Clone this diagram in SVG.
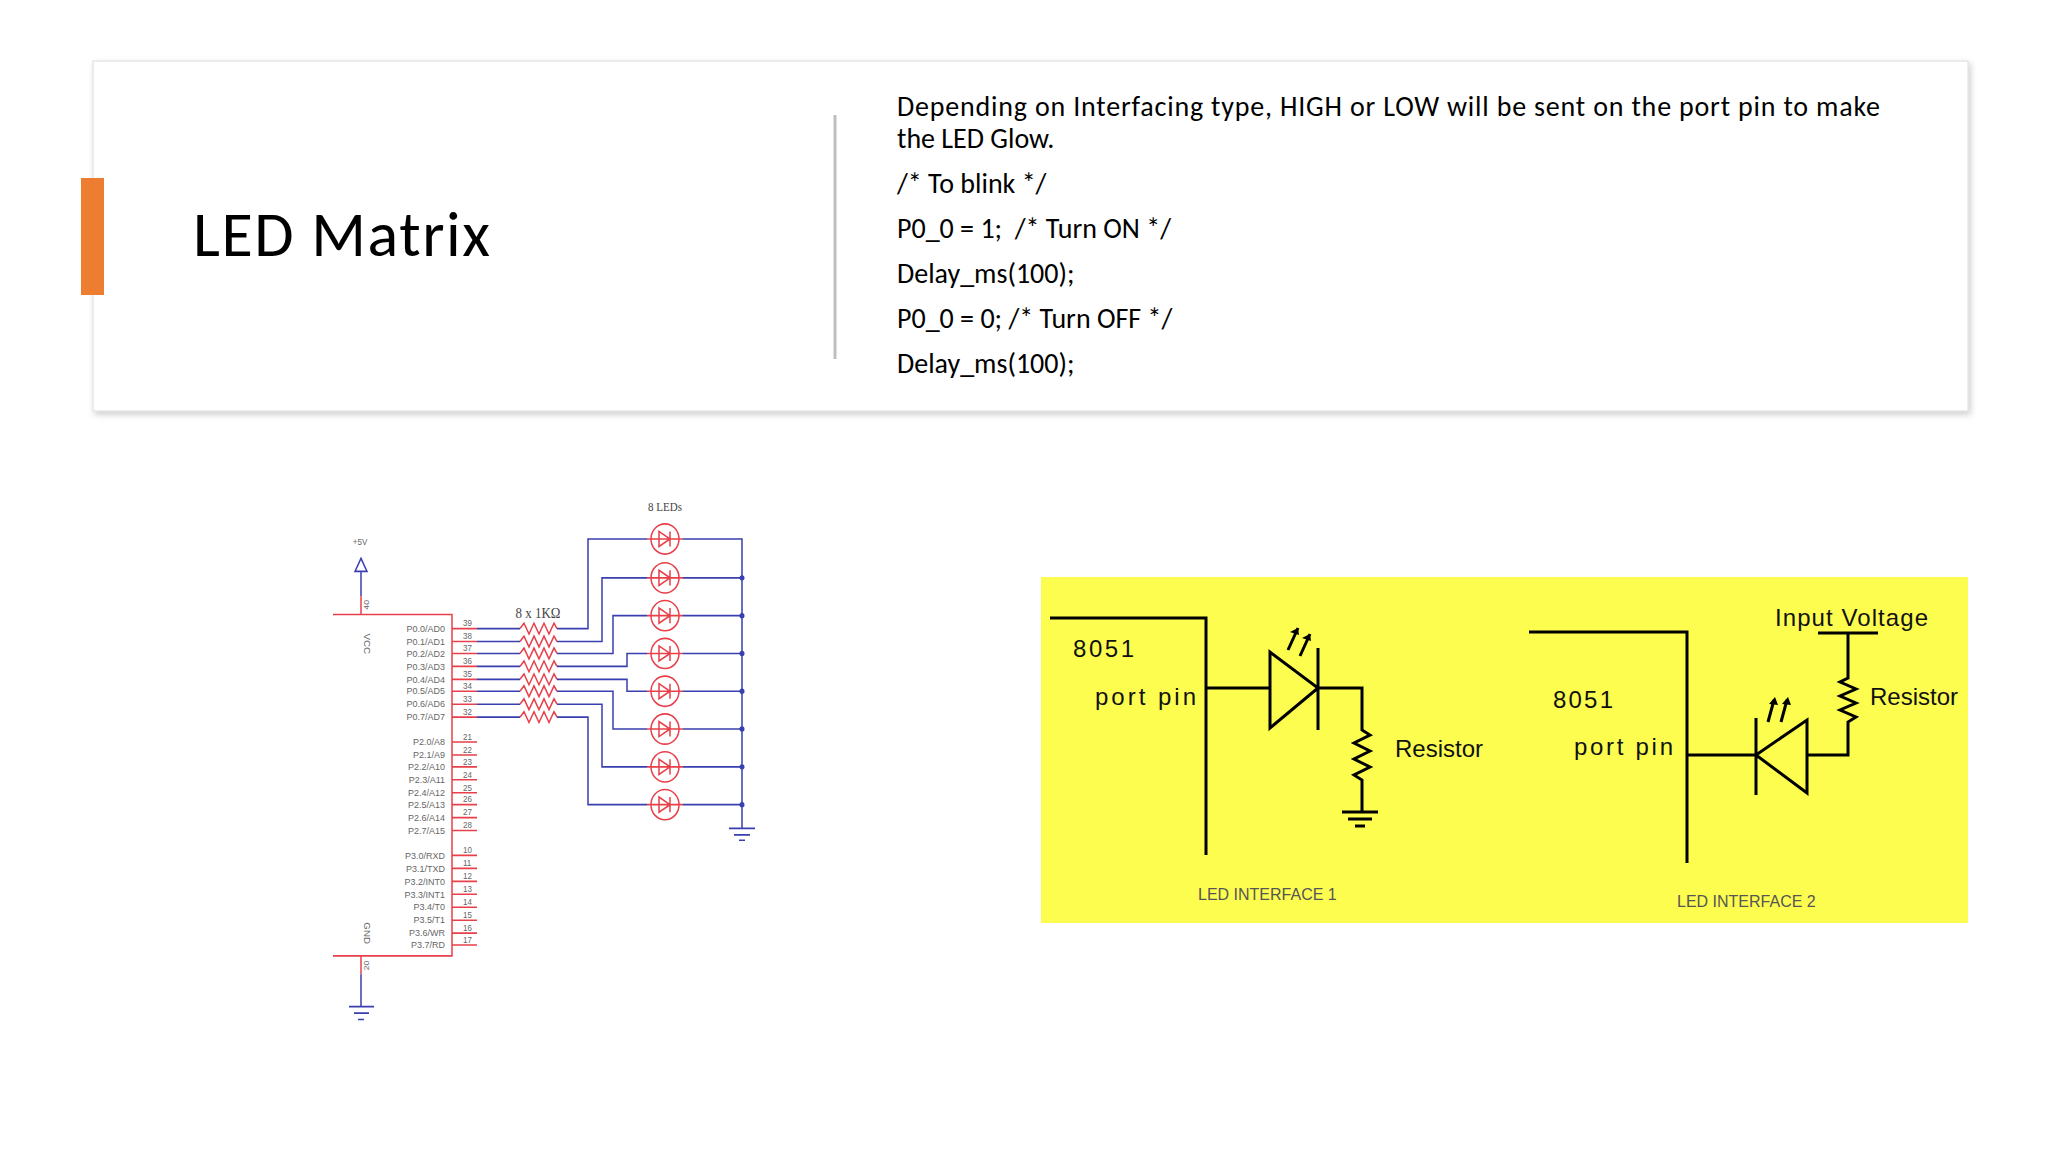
<svg xmlns="http://www.w3.org/2000/svg" width="2048" height="1152" viewBox="0 0 2048 1152">
<style>
.t{font-family:Calibri,"Liberation Sans",Carlito,sans-serif;fill:#000}
.k{stroke:#000;stroke-width:3;fill:none}
.r{stroke:#e8404a;stroke-width:1.5;fill:none}
.b{stroke:#3a3fb0;stroke-width:1.5;fill:none}
.s{font-family:"Liberation Sans",sans-serif;font-size:9px;fill:#666}
.n{font-family:"Liberation Sans",sans-serif;font-size:8px;fill:#666}
.y{font-family:"Liberation Sans",sans-serif;font-size:24px;fill:#111}
</style>
<defs>
<filter id="sh" x="-2%" y="-5%" width="104%" height="112%"><feDropShadow dx="2" dy="3" stdDeviation="3" flood-color="#000" flood-opacity="0.2"/></filter>
<g id="led"><circle r="14" fill="none" stroke="#e8404a" stroke-width="1.5"/><path d="M-18,0H18M-6,-7V7L5,0Z M5,-7V7" class="r"/></g>
<path id="zz" d="M0,0l4,-5l5,10l5,-10l5,10l5,-10l5,10l5,-10l3,5" class="r"/>
</defs>
<rect width="2048" height="1152" fill="#fff"/>
<g id="card">
<rect x="93" y="61" width="1875" height="350" fill="#fff" stroke="#dcdcdc" filter="url(#sh)"/>
<rect x="81" y="178" width="23" height="117" fill="#ed7d31"/>
<text x="193" y="256" class="t" font-size="64" textLength="297">LED Matrix</text>
<line x1="835" y1="115" x2="835" y2="359" stroke="#bfbfbf" stroke-width="3"/>
<g class="t" font-size="28">
<text x="897" y="116" textLength="983">Depending on Interfacing type, HIGH or LOW will be sent on the port pin to make</text>
<text x="897" y="148">the LED Glow.</text>
<text x="897" y="193">/* To blink */</text>
<text x="897" y="238" xml:space="preserve">P0_0 = 1;  /* Turn ON */</text>
<text x="897" y="283">Delay_ms(100);</text>
<text x="897" y="328">P0_0 = 0; /* Turn OFF */</text>
<text x="897" y="373">Delay_ms(100);</text>
</g>
</g>
<g id="schematic" transform="matrix(1,0,0,1.08,0,-41)">
<text x="360" y="543" class="n" text-anchor="middle">+5V</text>
<path d="M361,555l-6,12h12z" fill="#fff" stroke="#3a3fb0" stroke-width="1.5"/>
<line x1="361" y1="567" x2="361" y2="590" class="b"/>
<line x1="361" y1="590" x2="361" y2="607" class="r"/>
<text transform="translate(369,598) rotate(-90)" class="n" text-anchor="middle">40</text>
<path d="M333,607H452V923H333" class="r"/>
<text transform="translate(364,634) rotate(90)" class="s" text-anchor="middle">VCC</text>
<text transform="translate(364,902) rotate(90)" class="s" text-anchor="middle">GND</text>
<line x1="361" y1="923" x2="361" y2="940" class="r"/>
<text transform="translate(369,932) rotate(-90)" class="n" text-anchor="middle">20</text>
<path d="M361,940V970M349,970H374M354,976H369M358,982H364" class="b"/>
<g>
<text x="445" y="623" class="s" text-anchor="end">P0.0/AD0</text>
<text x="445" y="635" class="s" text-anchor="end">P0.1/AD1</text>
<text x="445" y="646" class="s" text-anchor="end">P0.2/AD2</text>
<text x="445" y="658" class="s" text-anchor="end">P0.3/AD3</text>
<text x="445" y="670" class="s" text-anchor="end">P0.4/AD4</text>
<text x="445" y="681" class="s" text-anchor="end">P0.5/AD5</text>
<text x="445" y="693" class="s" text-anchor="end">P0.6/AD6</text>
<text x="445" y="705" class="s" text-anchor="end">P0.7/AD7</text>
<text x="445" y="728" class="s" text-anchor="end">P2.0/A8</text>
<text x="445" y="740" class="s" text-anchor="end">P2.1/A9</text>
<text x="445" y="751" class="s" text-anchor="end">P2.2/A10</text>
<text x="445" y="763" class="s" text-anchor="end">P2.3/A11</text>
<text x="445" y="775" class="s" text-anchor="end">P2.4/A12</text>
<text x="445" y="786" class="s" text-anchor="end">P2.5/A13</text>
<text x="445" y="798" class="s" text-anchor="end">P2.6/A14</text>
<text x="445" y="810" class="s" text-anchor="end">P2.7/A15</text>
<text x="445" y="833" class="s" text-anchor="end">P3.0/RXD</text>
<text x="445" y="845" class="s" text-anchor="end">P3.1/TXD</text>
<text x="445" y="857" class="s" text-anchor="end">P3.2/INT0</text>
<text x="445" y="869" class="s" text-anchor="end">P3.3/INT1</text>
<text x="445" y="881" class="s" text-anchor="end">P3.4/T0</text>
<text x="445" y="893" class="s" text-anchor="end">P3.5/T1</text>
<text x="445" y="905" class="s" text-anchor="end">P3.6/WR</text>
<text x="445" y="916" class="s" text-anchor="end">P3.7/RD</text>
</g>
<g class="n">
<text x="463" y="618">39</text><text x="463" y="630">38</text><text x="463" y="641">37</text><text x="463" y="653">36</text><text x="463" y="665">35</text><text x="463" y="676">34</text><text x="463" y="688">33</text><text x="463" y="700">32</text>
<text x="463" y="723">21</text><text x="463" y="735">22</text><text x="463" y="746">23</text><text x="463" y="758">24</text><text x="463" y="770">25</text><text x="463" y="781">26</text><text x="463" y="793">27</text><text x="463" y="805">28</text>
<text x="463" y="828">10</text><text x="463" y="840">11</text><text x="463" y="852">12</text><text x="463" y="864">13</text><text x="463" y="876">14</text><text x="463" y="888">15</text><text x="463" y="900">16</text><text x="463" y="911">17</text>
</g>
<path class="r" d="M452,620H477M452,632H477M452,643H477M452,655H477M452,667H477M452,678H477M452,690H477M452,702H477
M452,725H477M452,737H477M452,748H477M452,760H477M452,772H477M452,783H477M452,795H477M452,807H477
M452,830H477M452,842H477M452,854H477M452,866H477M452,878H477M452,890H477M452,902H477M452,913H477"/>
<path class="b" d="M477,620H520M477,632H520M477,643H520M477,655H520M477,667H520M477,678H520M477,690H520M477,702H520"/>
<use href="#zz" x="520" y="620"/><use href="#zz" x="520" y="632"/><use href="#zz" x="520" y="643"/><use href="#zz" x="520" y="655"/>
<use href="#zz" x="520" y="667"/><use href="#zz" x="520" y="678"/><use href="#zz" x="520" y="690"/><use href="#zz" x="520" y="702"/>
<text x="538" y="610" font-family="Liberation Serif,serif" font-size="13" fill="#444" text-anchor="middle">8 x 1KΩ</text>
<text x="665" y="511" font-family="Liberation Serif,serif" font-size="11" fill="#444" text-anchor="middle">8 LEDs</text>
<path class="b" d="M557,620H588V537H647M557,632H602V573H647M557,643H613V608H647M557,655H627V643H647M557,667H627V678H647M557,678H613V713H647M557,690H602V748H647M557,702H588V783H647
M683,537H742V805M683,573H742M683,608H742M683,643H742M683,678H742M683,713H742M683,748H742M683,783H742M729,805H755M734,811H750M739,816H745"/>
<g fill="#3a3fb0"><circle cx="742" cy="573" r="2.5"/><circle cx="742" cy="608" r="2.5"/><circle cx="742" cy="643" r="2.5"/><circle cx="742" cy="678" r="2.5"/><circle cx="742" cy="713" r="2.5"/><circle cx="742" cy="748" r="2.5"/><circle cx="742" cy="783" r="2.5"/></g>
<use href="#led" x="665" y="537"/><use href="#led" x="665" y="573"/><use href="#led" x="665" y="608"/><use href="#led" x="665" y="643"/>
<use href="#led" x="665" y="678"/><use href="#led" x="665" y="713"/><use href="#led" x="665" y="748"/><use href="#led" x="665" y="783"/>
</g>
<g id="interfaces">
<rect x="1041" y="577" width="927" height="346" fill="#fdfd50"/>
<path class="k" d="M1050,618H1206V855"/>
<text x="1073" y="657" class="y" textLength="61">8051</text>
<text x="1095" y="705" class="y" textLength="101">port pin</text>
<path class="k" d="M1206,688H1270M1270,652V728L1318,688ZM1318,648V730M1318,688H1362V730l8,5l-16,8l16,8l-16,8l16,8l-16,8l8,5V812M1342,812H1378M1348,819H1372M1355,826H1365"/>
<path class="k" d="M1288,650l10,-22M1300,656l10,-22" stroke-width="2.5"/>
<path d="M1298,628l-8,4l9,3zM1310,634l-8,4l9,3z" fill="#000"/>
<text x="1395" y="757" class="y">Resistor</text>
<text x="1198" y="900" font-family="Liberation Sans,sans-serif" font-size="16" fill="#555">LED INTERFACE 1</text>
<path class="k" d="M1529,632H1687V863"/>
<text x="1553" y="708" class="y" textLength="60">8051</text>
<text x="1574" y="755" class="y" textLength="99">port pin</text>
<path class="k" d="M1687,755H1756M1756,718V795M1756,755L1807,720V793ZM1807,755H1848V722l8,-5l-16,-7l16,-7l-16,-7l16,-7l-16,-7l8,-4V633M1818,633H1878"/>
<path class="k" d="M1768,722l6,-22M1781,722l6,-22" stroke-width="2.5"/>
<path d="M1775,697l-6,7l9,1zM1788,697l-6,7l9,1z" fill="#000"/>
<text x="1775" y="626" class="y" textLength="153">Input Voltage</text>
<text x="1870" y="705" class="y">Resistor</text>
<text x="1677" y="907" font-family="Liberation Sans,sans-serif" font-size="16" fill="#555">LED INTERFACE 2</text>
</g>
</svg>
